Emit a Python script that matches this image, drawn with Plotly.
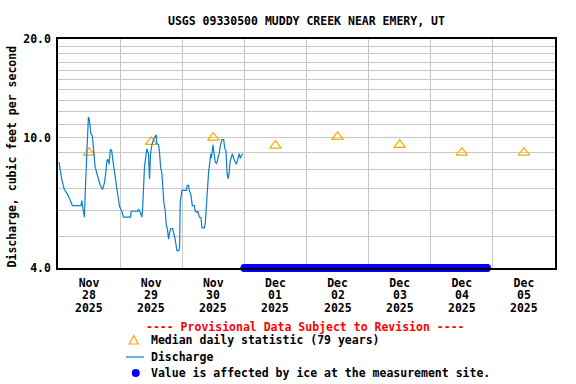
import math
import pandas as pd
import plotly.graph_objects as go

start = pd.Timestamp("2025-11-28 00:00")

# Discharge (hours after Nov 28 00:00, cfs)
q_hours = [0.39, 0.77, 1.42, 2.45, 3.74, 4.65, 5.55, 8.90, 9.16, 9.81, 10.19, 10.71, 11.10, 11.35,
           11.74, 12.13, 12.65, 13.29, 13.68, 14.32, 14.97, 15.61, 16.26, 17.16, 17.94, 18.45,
           18.84, 19.23, 19.74, 20.26, 20.77, 21.16, 21.81, 22.45, 23.10, 23.74, 24.65, 25.29,
           28.00, 28.26, 30.84, 31.10, 31.74, 32.39, 32.65, 33.03, 33.42, 33.94, 34.32, 34.97,
           35.35, 35.74, 36.26, 36.90, 37.55, 37.94, 38.19, 38.84, 39.23, 39.61, 40.13, 40.52,
           40.90, 41.42, 41.81, 42.32, 42.71, 43.10, 43.61, 44.26, 44.77, 45.29, 45.94, 46.71,
           46.97, 47.23, 47.61, 47.87, 49.55, 49.94, 50.45, 50.71, 51.35, 51.87, 52.65, 53.03,
           53.68, 54.06, 54.58, 55.23, 55.61, 56.52, 56.90, 57.29, 57.81, 58.19, 58.58, 58.97,
           59.23, 59.48, 59.87, 60.26, 60.77, 61.29, 61.81, 62.32, 62.71, 63.35, 64.00, 64.39,
           64.90, 65.29, 65.68, 66.06, 66.45, 66.97, 67.35, 67.87, 68.52, 68.90, 69.42, 69.94,
           70.45, 70.97, 71.48]
q_values = [8.42, 7.98, 7.48, 6.94, 6.70, 6.46, 6.20, 6.20, 6.43, 5.96, 5.72, 7.44, 8.98, 10.33,
            11.56, 11.34, 10.33, 10.08, 9.19, 8.17, 7.80, 7.48, 7.18, 6.94, 7.27, 7.80,
            8.46, 8.61, 8.30, 9.23, 9.10, 8.55, 7.89, 7.35, 6.78, 6.17, 5.96, 5.72,
            5.72, 5.96, 5.96, 6.05, 5.92, 5.72, 6.00, 7.44, 8.17, 8.77, 9.25, 8.90,
            7.48, 8.90, 9.51, 9.86, 10.14, 10.20, 9.60, 9.50, 9.00, 8.17, 7.80, 7.10,
            6.32, 6.00, 5.42, 5.24, 4.90, 5.12, 5.28, 5.28, 5.12, 4.88, 4.52, 4.52,
            4.65, 6.39, 6.65, 6.90, 6.90, 7.15, 7.15, 6.90, 6.70, 6.20, 6.20, 5.96,
            5.92, 5.96, 5.72, 5.70, 5.30, 5.30, 5.47, 6.22, 6.78, 7.89, 8.30, 8.93,
            8.65, 8.98, 9.51, 8.98, 8.42, 8.35, 8.65, 8.98, 9.45, 9.86, 9.86, 9.30,
            9.10, 7.80, 7.50, 7.72, 8.42, 8.77, 8.93, 8.65, 8.46, 8.30, 8.55, 8.93,
            8.65, 8.88, 8.93]

# Median daily statistic (79 years), plotted at noon
median_days = ["2025-11-28 12:00", "2025-11-29 12:00", "2025-11-30 12:00", "2025-12-01 12:00",
               "2025-12-02 12:00", "2025-12-03 12:00", "2025-12-04 12:00", "2025-12-05 12:00"]
median_values = [9.0, 9.7, 10.0, 9.45, 10.05, 9.5, 9.0, 9.0]

# Ice-affected period (15-minute values)
ice_start = "2025-12-01 00:00"
ice_end = "2025-12-04 21:45"
ice_level = 4.0

tick_days = median_days
tick_month = ["Nov", "Nov", "Nov", "Dec", "Dec", "Dec", "Dec", "Dec"]
tick_daynum = ["28", "29", "30", "01", "02", "03", "04", "05"]
tick_year = ["2025"] * 8
y_ticks = [4, 10, 20]
y_ticktext = ["4.0", "10.0", "20.0"]
y_minor = [5, 6, 7, 8, 9, 11, 12, 13, 14, 15, 16, 17, 18, 19]

legend_labels = ["Median daily statistic (79 years)", "Discharge",
                 "Value is affected by ice at the measurement site."]

FONT = "DejaVu Sans Mono"
FS = 11.5
q_times = [start + pd.Timedelta(hours=h) for h in q_hours]
ice_times = [t.strftime("%Y-%m-%d %H:%M") for t in pd.date_range(ice_start, ice_end, freq="15min")]

MED_COLOR = "#FFA500"
Q_COLOR = "#0B7FD0"
ICE_COLOR = "#0000FF"

fig = go.Figure()
fig.add_trace(go.Scatter(x=median_days, y=median_values, mode="markers", name=legend_labels[0],
                         marker=dict(symbol="triangle-up-open", size=10, color=MED_COLOR,
                                     line=dict(width=1.2, color=MED_COLOR))))
fig.add_trace(go.Scatter(x=q_times, y=q_values, mode="lines", name=legend_labels[1],
                         line=dict(color=Q_COLOR, width=1.2)))
fig.add_trace(go.Scatter(x=ice_times, y=[ice_level] * len(ice_times), mode="markers",
                         name=legend_labels[2],
                         marker=dict(symbol="circle", size=8, color=ICE_COLOR),
                         cliponaxis=False))

annotations = [
    dict(text="<b>---- Provisional Data Subject to Revision ----</b>", xref="paper", yref="paper",
         x=0.497, y=-0.259, xanchor="center", yanchor="middle", showarrow=False,
         font=dict(family=FONT, size=FS, color="#FF0000")),
    dict(text="<b>Discharge, cubic feet per second</b>", xref="paper", yref="paper",
         x=-0.0926, y=0.487, xanchor="center", yanchor="middle", textangle=-90, showarrow=False,
         font=dict(family=FONT, size=FS)),
]
# second and third rows of the date labels
for d, dn, yr in zip(tick_days, tick_daynum, tick_year):
    annotations.append(dict(text="<b>" + dn + "</b>", x=d, xref="x", y=-0.1179, yref="paper",
                            xanchor="center", yanchor="middle", showarrow=False,
                            font=dict(family=FONT, size=FS)))
    annotations.append(dict(text="<b>" + yr + "</b>", x=d, xref="x", y=-0.176, yref="paper",
                            xanchor="center", yanchor="middle", showarrow=False,
                            font=dict(family=FONT, size=FS)))
# legend texts
for lab, ly in zip(legend_labels, [-0.3144, -0.3886, -0.4585]):
    annotations.append(dict(text="<b>" + lab + "</b>", xref="paper", yref="paper", x=0.1831, y=ly,
                            xanchor="left", yanchor="middle", showarrow=False,
                            font=dict(family=FONT, size=FS)))

shapes = [
    dict(type="path", xref="paper", yref="paper", xsizemode="pixel", ysizemode="pixel",
         xanchor=0.1525, yanchor=-0.3144, path="M -4.5 -4 L 4.5 -4 L 0 4.5 Z",
         line=dict(color=MED_COLOR, width=1.2), fillcolor="rgba(0,0,0,0)"),
    dict(type="line", xref="paper", yref="paper", x0=0.1368, x1=0.1730, y0=-0.3886, y1=-0.3886,
         line=dict(color=Q_COLOR, width=1.2)),
    dict(type="circle", xref="paper", yref="paper", xsizemode="pixel", ysizemode="pixel",
         xanchor=0.1565, yanchor=-0.4585, x0=-4, x1=4, y0=-4, y1=4,
         line=dict(color=ICE_COLOR, width=0), fillcolor=ICE_COLOR),
]

fig.update_layout(
    width=576, height=384,
    margin=dict(l=58, r=21, t=39, b=116, autoexpand=False),
    paper_bgcolor="white", plot_bgcolor="white",
    font=dict(family=FONT, size=FS, color="black"),
    title=dict(text="<b>USGS 09330500 MUDDY CREEK NEAR EMERY, UT</b>", x=0.532, xanchor="center",
               y=1 - 21 / 384, yanchor="middle", font=dict(family=FONT, size=FS)),
    showlegend=False,
    annotations=annotations,
    shapes=shapes,
)

fig.update_xaxes(
    type="date", range=["2025-11-28 00:00", "2025-12-06 00:00"],
    tickvals=tick_days, ticktext=["<b>" + m + "</b>" for m in tick_month],
    showgrid=False, ticks="", ticklabelstandoff=3,
    minor=dict(dtick=86400000, tick0="2025-11-28", showgrid=True, gridcolor="#C8C8C8", gridwidth=1),
    showline=True, linecolor="black", linewidth=1.5, mirror=True, zeroline=False,
)
fig.update_yaxes(
    type="log", range=[math.log10(4) - 1e-6, math.log10(20)],
    tickvals=y_ticks, ticktext=["<b>" + t + "</b>" for t in y_ticktext],
    showgrid=True, gridcolor="#C8C8C8", gridwidth=1, ticks="", ticklabelstandoff=3,
    minor=dict(tickvals=y_minor, showgrid=True, gridcolor="#C8C8C8", gridwidth=1),
    showline=True, linecolor="black", linewidth=1.5, mirror=True, zeroline=False,
)

fig.write_html("out.html", config={"displayModeBar": False},
               post_script="document.body.style.margin='0px';")
